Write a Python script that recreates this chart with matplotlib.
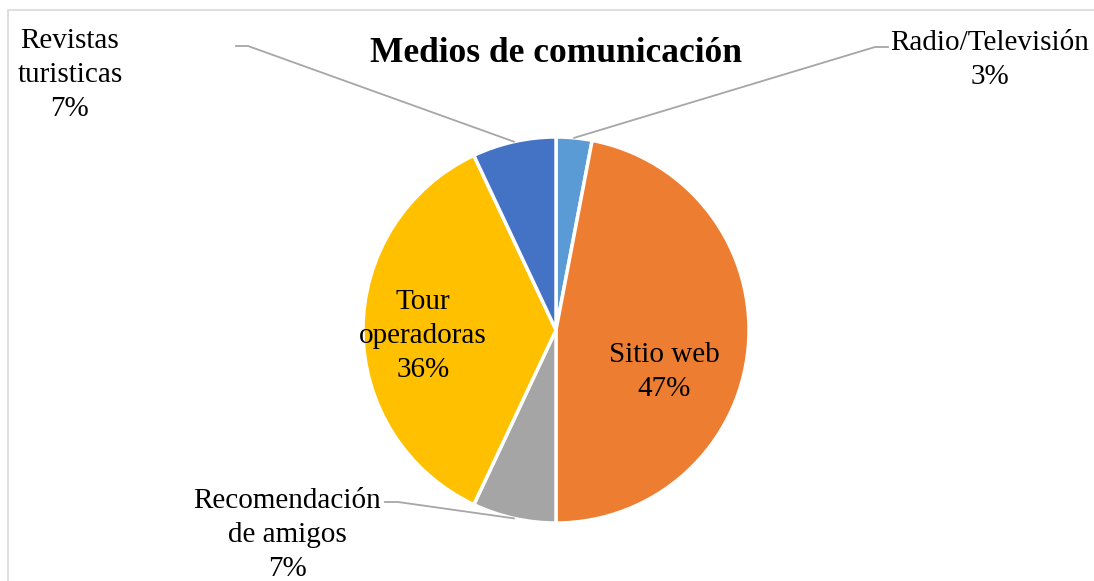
import numpy as np
import matplotlib.pyplot as plt
from matplotlib.patches import Rectangle

plt.rcParams['font.family'] = ['Liberation Serif', 'DejaVu Serif']

# datos del gráfico
categorias = ['Radio/Televisión', 'Sitio web', 'Recomendación\nde amigos',
              'Tour\noperadoras', 'Revistas\nturisticas']
porcentajes = [3, 47, 7, 36, 7]
colores = ['#5B9BD5', '#ED7D31', '#A5A5A5', '#FFC000', '#4472C4']
titulo = 'Medios de comunicación'

W, H = 1094, 581
fig = plt.figure(figsize=(W / 100, H / 100), dpi=100)
ax = fig.add_axes([0, 0, 1, 1])

cx, cy, r = 556, H - 330, 193
wedges, _ = ax.pie(porcentajes, colors=colores, startangle=90, counterclock=False,
                   center=(cx, cy), radius=r, frame=True,
                   wedgeprops=dict(edgecolor='white', linewidth=2.5))
ax.set_xlim(0, W)
ax.set_ylim(0, H)
ax.set_aspect('equal')
ax.axis('off')

# marco del área del gráfico (recortado a la derecha y abajo)
ax.add_patch(Rectangle((8, -20), W + 40, H - 10 + 20, fill=False,
                       edgecolor='#D9D9D9', linewidth=1.2, clip_on=False))

ax.text(cx, H - 54, titulo, ha='center', va='center', fontsize=25.5,
        fontweight='bold')

def texto(i):
    return f'{categorias[i]}\n{porcentajes[i]}%'

fs = 21
ls = 1.38

# etiquetas dentro del sector
dentro = {1: (664, 372), 3: (423, 336)}
for i, (x, y) in dentro.items():
    ax.text(x, H - y, texto(i), ha='center', va='center', fontsize=fs,
            linespacing=ls)

# etiquetas fuera con líneas guía: (codo, extremo, posición de texto)
fuera = {
    0: ((875, 47), (888, 47), (990, 60)),
    2: ((398, 502), (385, 502), (287, 535)),
    4: ((248, 46), (236, 46), (70, 75)),
}
for i, (codo, fin, pos) in fuera.items():
    w = wedges[i]
    ang = np.deg2rad((w.theta1 + w.theta2) / 2)
    x0 = cx + r * np.cos(ang)
    y0 = cy + r * np.sin(ang)
    ax.plot([x0, codo[0], fin[0]], [y0, H - codo[1], H - fin[1]],
            color='#A6A6A6', linewidth=1.3)
    ax.text(pos[0], H - pos[1], texto(i), ha='center', va='center',
            fontsize=fs, linespacing=ls)

fig.savefig('out.png', dpi=100)
